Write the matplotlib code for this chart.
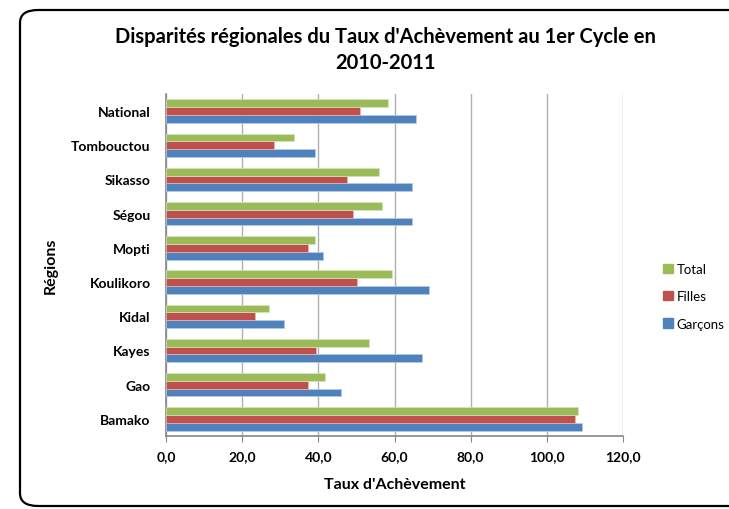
import numpy as np
import matplotlib.pyplot as plt
from matplotlib.patches import FancyBboxPatch, Patch
from matplotlib.ticker import FuncFormatter

plt.rcParams['font.family'] = ['Lato', 'DejaVu Sans']

# Data (bottom to top, as drawn)
regions = ['Bamako', 'Gao', 'Kayes', 'Kidal', 'Koulikoro', 'Mopti',
           'Ségou', 'Sikasso', 'Tombouctou', 'National']
garcons = [109.2, 46.0, 67.3, 30.9, 69.1, 41.2, 64.7, 64.7, 39.2, 65.7]
filles = [107.3, 37.4, 39.4, 23.5, 50.1, 37.4, 49.0, 47.6, 28.3, 50.9]
total = [108.1, 41.8, 53.2, 27.0, 59.3, 39.2, 56.8, 56.0, 33.6, 58.2]

c_blue = '#4F81BD'
c_red = '#C0504D'
c_green = '#9BBB59'

fig = plt.figure(figsize=(7.29, 5.10), dpi=100)

# rounded chart border (cut on the right like the original)
frame = FancyBboxPatch((20 / 729, 3 / 510), 760 / 729, 496 / 510,
                       boxstyle='round,pad=0,rounding_size=0.025',
                       transform=fig.transFigure, facecolor='none',
                       edgecolor='black', linewidth=1.6, zorder=-1)
fig.patches.append(frame)

ax = fig.add_axes([166 / 729, 1 - 437 / 510, 457 / 729, 342 / 510])
ax.set_facecolor('none')

y = np.arange(len(regions))
h = 0.228
ax.barh(y - h, garcons, height=h, color=c_blue, edgecolor='#b9cde5', linewidth=0.5, zorder=3)
ax.barh(y, filles, height=h, color=c_red, edgecolor='#e6b9b8', linewidth=0.5, zorder=3)
ax.barh(y + h, total, height=h, color=c_green, edgecolor='#d7e4bd', linewidth=0.5, zorder=3)

ax.set_xlim(0, 120)
ax.set_ylim(-0.5, len(regions) - 0.5)
ax.set_xticks(np.arange(0, 121, 20))
ax.xaxis.set_major_formatter(FuncFormatter(lambda v, p: f'{v:.1f}'.replace('.', ',')))
ax.set_yticks(y)
ax.set_yticklabels(regions, fontsize=10, fontweight='bold')
for lab in ax.get_xticklabels():
    lab.set_fontsize(10)
    lab.set_fontweight('bold')

ax.grid(axis='x', color='#b0b0b0', linewidth=1.0, zorder=0)
for s in ['top', 'right']:
    ax.spines[s].set_visible(False)
ax.spines['left'].set_color('#868686')
ax.spines['bottom'].set_color('#868686')
ax.spines['left'].set_linewidth(1.2)
ax.spines['bottom'].set_linewidth(1.2)
ax.tick_params(axis='x', length=4, color='#868686', pad=6)
ax.tick_params(axis='y', length=0, pad=11)

ax.set_xlabel("Taux d'Achèvement", fontsize=11.5, fontweight='bold', labelpad=11)
ax.set_ylabel('Régions', fontsize=11.5, fontweight='bold', labelpad=10)

fig.text(385 / 729, 1 - 37 / 510, "Disparités régionales du Taux d'Achèvement au 1er Cycle en",
         ha='center', va='center', fontsize=14.5, fontweight='bold')
fig.text(385 / 729, 1 - 63 / 510, '2010-2011',
         ha='center', va='center', fontsize=14.5, fontweight='bold')

handles = [Patch(color=c_green, label='Total'),
           Patch(color=c_red, label='Filles'),
           Patch(color=c_blue, label='Garçons')]
fig.legend(handles=handles, loc='upper left', bbox_to_anchor=(658 / 729, 1 - 259 / 510),
           frameon=False, fontsize=9.5, handlelength=0.7, handleheight=0.7,
           handletextpad=0.3, labelspacing=1.15, borderaxespad=0)

fig.savefig('out.png', dpi=100)
